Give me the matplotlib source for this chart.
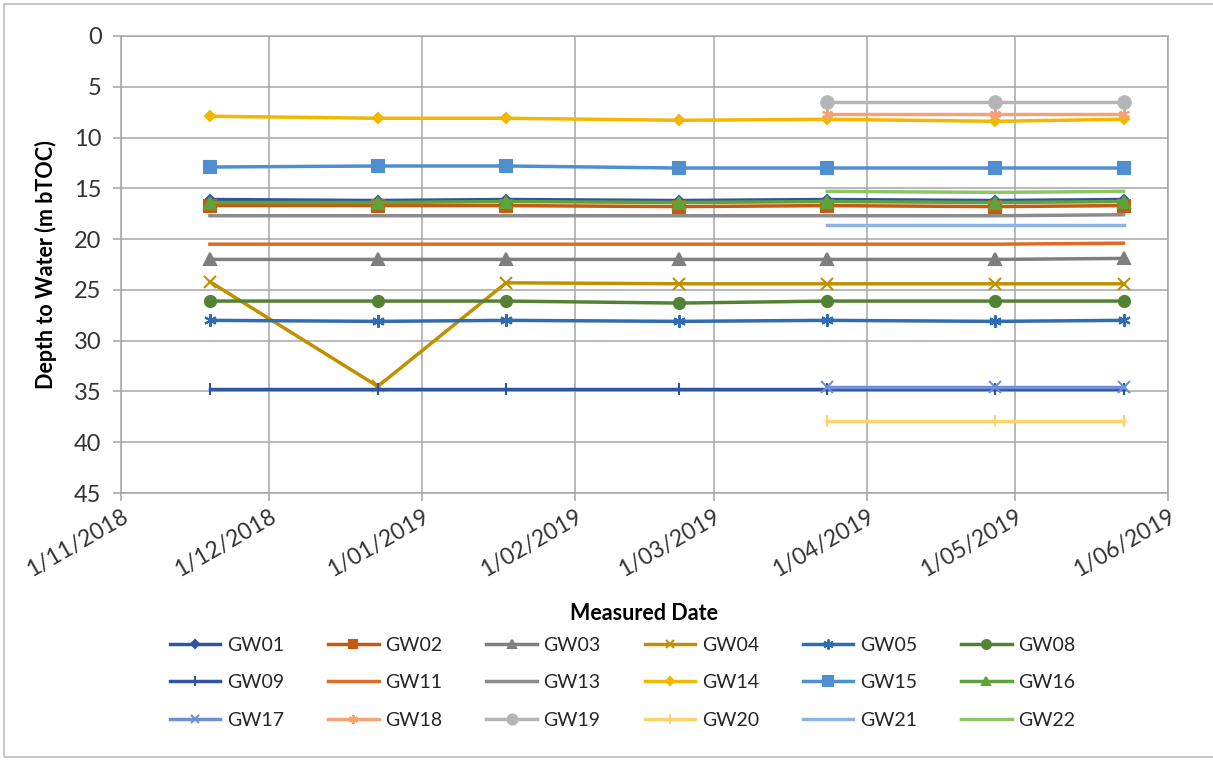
import numpy as np
import matplotlib.pyplot as plt
import matplotlib.dates as mdates
from matplotlib.patches import Rectangle
from datetime import datetime

plt.rcParams['font.family'] = ['Lato', 'DejaVu Sans']

# Fechas de medición
dates = [datetime(2018, 11, 19), datetime(2018, 12, 23), datetime(2019, 1, 18),
         datetime(2019, 2, 22), datetime(2019, 3, 24), datetime(2019, 4, 27),
         datetime(2019, 5, 23)]
late = dates[4:]

# Profundidad al agua (m bTOC) por pozo
GW01 = [16.1, 16.2, 16.1, 16.2, 16.1, 16.2, 16.1]
GW02 = [16.7, 16.7, 16.7, 16.8, 16.7, 16.8, 16.7]
GW03 = [22.0, 22.0, 22.0, 22.0, 22.0, 22.0, 21.9]
GW04 = [24.2, 34.5, 24.3, 24.4, 24.4, 24.4, 24.4]
GW05 = [28.0, 28.1, 28.0, 28.1, 28.0, 28.1, 28.0]
GW08 = [26.1, 26.1, 26.1, 26.3, 26.1, 26.1, 26.1]
GW09 = [34.8, 34.8, 34.8, 34.8, 34.8, 34.8, 34.8]
GW11 = [20.5, 20.5, 20.5, 20.5, 20.5, 20.5, 20.4]
GW13 = [17.7, 17.7, 17.7, 17.7, 17.7, 17.7, 17.6]
GW14 = [7.9, 8.1, 8.1, 8.3, 8.2, 8.4, 8.2]
GW15 = [12.9, 12.8, 12.8, 13.0, 13.0, 13.0, 13.0]
GW16 = [16.4, 16.4, 16.3, 16.4, 16.3, 16.4, 16.3]
GW17 = [34.6, 34.6, 34.6]
GW18 = [7.7, 7.7, 7.7]
GW19 = [6.5, 6.5, 6.5]
GW20 = [37.9, 37.9, 37.9]
GW21 = [18.6, 18.6, 18.6]
GW22 = [15.3, 15.4, 15.3]

series = [
    ('GW01', dates, GW01, '#2F55A0', 'D', 5),
    ('GW02', dates, GW02, '#C55A11', 's', 8),
    ('GW03', dates, GW03, '#7F7F7F', '^', 8),
    ('GW04', dates, GW04, '#BF9000', 'x', 8),
    ('GW05', dates, GW05, '#2E6DB4', (6, 2, 0), 9),
    ('GW08', dates, GW08, '#548235', 'o', 8),
    ('GW09', dates, GW09, '#2F55A0', '|', 9),
    ('GW11', dates, GW11, '#E06A26', None, 0),
    ('GW13', dates, GW13, '#8C8C8C', None, 0),
    ('GW14', dates, GW14, '#F2B800', 'D', 5),
    ('GW15', dates, GW15, '#4F8FD0', 's', 9),
    ('GW16', dates, GW16, '#5EA33A', '^', 8),
    ('GW17', late, GW17, '#6F8FD6', 'x', 8),
    ('GW18', late, GW18, '#F4A27A', (6, 2, 0), 8),
    ('GW19', late, GW19, '#B5B5B5', 'o', 9),
    ('GW20', late, GW20, '#FFD36B', '|', 9),
    ('GW21', late, GW21, '#8DB4E2', None, 0),
    ('GW22', late, GW22, '#8CC56A', None, 0),
]

fig = plt.figure(figsize=(12.13, 7.6), dpi=100)
ax = fig.add_axes([121 / 1213, 1 - 493 / 760, 1047 / 1213, 457 / 760])

handles = []
for name, x, y, color, marker, ms in series:
    h, = ax.plot(x, y, color=color, lw=2.5, marker=marker, markersize=ms,
                 markeredgewidth=1.5, label=name)
    handles.append(h)

ax.set_ylim(45, 0)
ax.set_yticks(np.arange(0, 50, 5))
ax.set_xlim(datetime(2018, 11, 1), datetime(2019, 6, 1))
ax.xaxis.set_major_locator(mdates.MonthLocator())
ax.xaxis.set_major_formatter(mdates.DateFormatter('1/%m/%Y'))
ax.grid(True, color='#A6A6A6', lw=1.1)
ax.set_axisbelow(True)
for s in ax.spines.values():
    s.set_color('#A6A6A6')
    s.set_linewidth(1.1)
ax.tick_params(axis='both', color='#A6A6A6', length=6, width=1.1,
               labelsize=16.5, labelcolor='#333333')
ax.tick_params(axis='y', labelsize=17, pad=8)
for lbl in ax.get_xticklabels():
    lbl.set_rotation(30)
    lbl.set_ha('right')
    lbl.set_rotation_mode('anchor')

ax.set_ylabel('Depth to Water (m bTOC)', fontsize=15.5, fontweight='bold', labelpad=12)
ax.set_xlabel('Measured Date', fontsize=15.5, fontweight='bold', labelpad=10)
ax.xaxis.set_label_coords(0.5, -0.24)

# leyenda en filas de 6
order = [r * 6 + c for c in range(6) for r in range(3)]
leg = fig.legend([handles[i] for i in order], [handles[i].get_label() for i in order],
                 ncol=6, loc='upper left', bbox_to_anchor=(162 / 1213, 1 - 629 / 760),
                 frameon=False, fontsize=14, handlelength=2.6, columnspacing=2.25,
                 labelspacing=1.05, handletextpad=0.35, markerscale=0.8,
                 borderaxespad=0)
for t in leg.get_texts():
    t.set_color('#262626')

fig.patches.append(Rectangle((4 / 1213, 3 / 760), 1.0, 1 - 7 / 760,
                             transform=fig.transFigure, fill=False,
                             edgecolor='#C8C8C8', lw=1.5))

fig.savefig('out.png', dpi=100)
